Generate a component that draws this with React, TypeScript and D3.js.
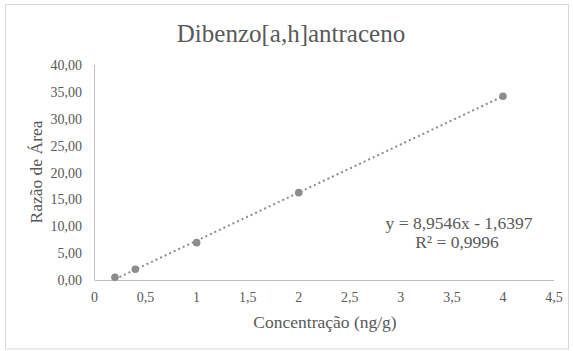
import * as d3 from "d3";

const concentrations = [0.2, 0.4, 1, 2, 4];
const areaRatios = [0.5, 2.0, 6.95, 16.25, 34.2];
const xTicks = [0, 0.5, 1, 1.5, 2, 2.5, 3, 3.5, 4, 4.5];
const yTicks = [0, 5, 10, 15, 20, 25, 30, 35, 40];
const slope = 8.9546;
const intercept = -1.6397;
const rSquared = "0,9996";

const font = "Liberation Serif";
const textColor = "#595959";
const pointColor = "#8c8c8c";

export default function App() {
  const x = d3.scaleLinear().domain([0, 4.5]).range([94.5, 554]);
  const y = d3.scaleLinear().domain([0, 40]).range([280, 65]);
  const comma = (s: string) => s.replace(".", ",");

  // trendline over the data range
  const x0 = d3.min(concentrations) ?? 0;
  const x1 = d3.max(concentrations) ?? 0;
  const eqText = `y = ${comma(d3.format(".4f")(slope))}x - ${comma(
    d3.format(".4f")(-intercept)
  )}`;

  return (
    <svg
      width={573}
      height={351}
      fontFamily={font}
      style={{ position: "absolute", left: 0, top: 0 }}
    >
      <rect x={5.5} y={4.5} width={563} height={344.5} fill="#fff" stroke="#d9d9d9" />

      <text x={291} y={42} textAnchor="middle" fontSize={25} fill={textColor} fontFamily={font}>
        Dibenzo[a,h]antraceno
      </text>

      {/* axis lines */}
      <line x1={x(0)} x2={x(0)} y1={y(40)} y2={y(0)} stroke="#bfbfbf" />
      <line x1={x(0)} x2={x(4.5)} y1={y(0) + 0.5} y2={y(0) + 0.5} stroke="#bfbfbf" />

      {yTicks.map(d => (
        <text
          key={"y" + d}
          x={82}
          y={y(d) + 5}
          textAnchor="end"
          fontSize={14}
          fill={textColor}
          fontFamily={font}
        >
          {comma(d3.format(".2f")(d))}
        </text>
      ))}

      {xTicks.map(d => (
        <text
          key={"x" + d}
          x={x(d)}
          y={302}
          textAnchor="middle"
          fontSize={14}
          fill={textColor}
          fontFamily={font}
        >
          {comma(String(d))}
        </text>
      ))}

      <text
        transform="translate(42,172) rotate(-90)"
        textAnchor="middle"
        fontSize={17.5}
        fill={textColor}
        fontFamily={font}
      >
        Razão de Área
      </text>
      <text x={325} y={328} textAnchor="middle" fontSize={17.5} fill={textColor} fontFamily={font}>
        Concentração (ng/g)
      </text>

      <line
        x1={x(x0)}
        y1={y(slope * x0 + intercept)}
        x2={x(x1)}
        y2={y(slope * x1 + intercept)}
        stroke={pointColor}
        strokeWidth={2}
        strokeDasharray="2,3"
      />

      {concentrations.map((c, i) => (
        <circle key={c} cx={x(c)} cy={y(areaRatios[i])} r={3.8} fill={pointColor} />
      ))}

      <text x={459} y={229} textAnchor="middle" fontSize={17.5} fill={textColor} fontFamily={font}>
        {eqText}
      </text>
      <text x={457} y={248} textAnchor="middle" fontSize={17.5} fill={textColor} fontFamily={font}>
        {`R² = ${rSquared}`}
      </text>
    </svg>
  );
}
